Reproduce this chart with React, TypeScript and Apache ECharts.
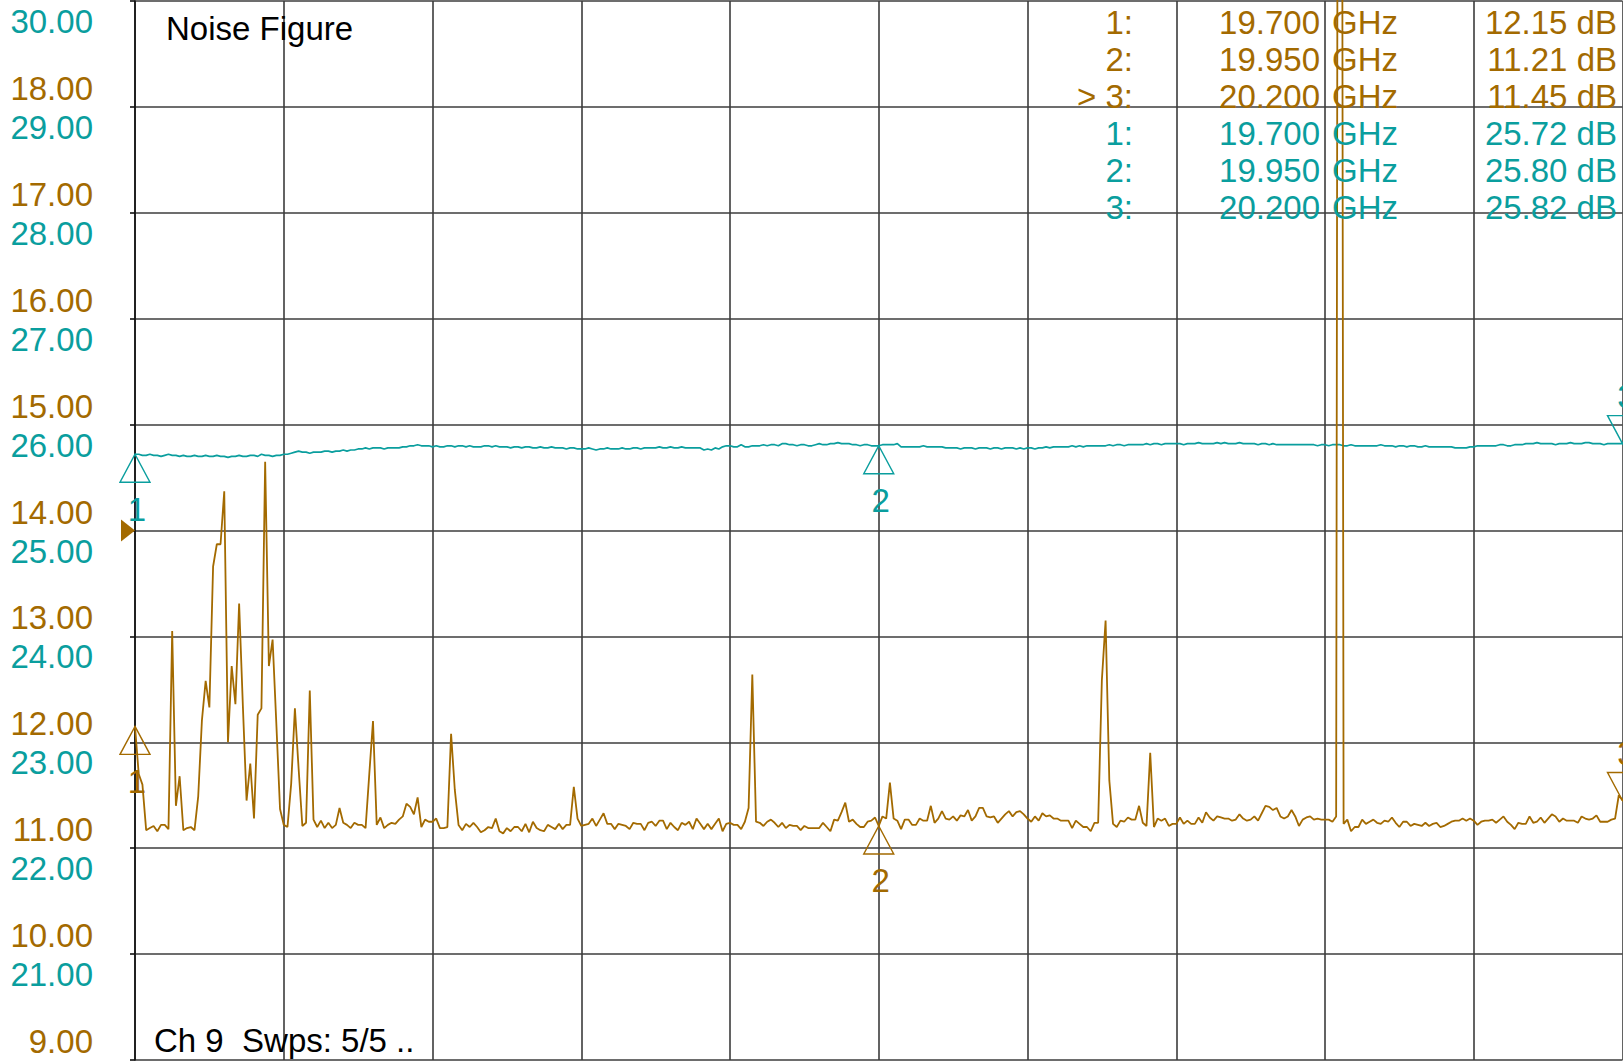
import React, { useEffect, useRef } from "react";
import * as echarts from "echarts";

const BROWN = "#a36a00";
const TEAL = "#0a9e9e";
const GRID = "#3c3c3c";
const FONT = '"Liberation Sans", Arial, Helvetica, sans-serif';

const startGHz = 19.7;
const stopGHz = 20.2;

// Noise figure trace (dB), 401 points
const noiseFigure = [
  12.15, 11.70, 11.60, 11.17, 11.19, 11.21, 11.16, 11.22, 11.22, 11.18,
  13.05, 11.40, 11.68, 11.17, 11.19, 11.20, 11.17, 11.49, 12.21, 12.58,
  12.33, 13.66, 13.87, 13.87, 14.37, 12.00, 12.72, 12.36, 13.31, 12.35,
  11.45, 11.80, 11.28, 12.26, 12.32, 14.65, 12.72, 12.97, 12.18, 11.37,
  11.22, 11.20, 11.61, 12.32, 11.75, 11.21, 11.24, 12.49, 11.27, 11.20,
  11.26, 11.19, 11.24, 11.19, 11.22, 11.38, 11.24, 11.22, 11.19, 11.24,
  11.22, 11.22, 11.19, 11.70, 12.20, 11.22, 11.29, 11.19, 11.22, 11.24,
  11.23, 11.27, 11.30, 11.42, 11.39, 11.32, 11.48, 11.20, 11.27, 11.25,
  11.25, 11.28, 11.19, 11.19, 11.20, 12.08, 11.55, 11.22, 11.17, 11.23,
  11.20, 11.24, 11.20, 11.15, 11.17, 11.20, 11.19, 11.28, 11.16, 11.14,
  11.19, 11.16, 11.20, 11.20, 11.16, 11.23, 11.15, 11.25, 11.19, 11.17,
  11.16, 11.22, 11.20, 11.18, 11.23, 11.18, 11.22, 11.22, 11.58, 11.28,
  11.21, 11.22, 11.23, 11.28, 11.21, 11.27, 11.33, 11.23, 11.23, 11.18,
  11.23, 11.22, 11.21, 11.18, 11.24, 11.23, 11.23, 11.17, 11.24, 11.25,
  11.21, 11.26, 11.26, 11.18, 11.24, 11.20, 11.17, 11.24, 11.22, 11.25,
  11.18, 11.28, 11.23, 11.18, 11.23, 11.18, 11.23, 11.28, 11.16, 11.23,
  11.24, 11.22, 11.22, 11.18, 11.25, 11.38, 12.64, 11.25, 11.24, 11.21,
  11.25, 11.27, 11.24, 11.20, 11.24, 11.19, 11.22, 11.21, 11.21, 11.17,
  11.21, 11.19, 11.19, 11.19, 11.19, 11.24, 11.20, 11.16, 11.27, 11.26,
  11.34, 11.43, 11.25, 11.27, 11.23, 11.20, 11.20, 11.25, 11.26, 11.29,
  11.21, 11.30, 11.28, 11.62, 11.28, 11.26, 11.18, 11.27, 11.27, 11.22,
  11.22, 11.28, 11.26, 11.26, 11.40, 11.24, 11.28, 11.35, 11.28, 11.27,
  11.30, 11.26, 11.31, 11.30, 11.36, 11.26, 11.30, 11.38, 11.38, 11.30,
  11.29, 11.30, 11.24, 11.28, 11.32, 11.35, 11.30, 11.34, 11.35, 11.32,
  11.28, 11.25, 11.30, 11.26, 11.33, 11.30, 11.31, 11.28, 11.28, 11.26,
  11.26, 11.26, 11.19, 11.26, 11.23, 11.20, 11.20, 11.16, 11.24, 11.24,
  12.59, 13.15, 11.64, 11.23, 11.20, 11.26, 11.25, 11.29, 11.27, 11.27,
  11.40, 11.24, 11.21, 11.90, 11.20, 11.28, 11.26, 11.28, 11.21, 11.23,
  11.23, 11.29, 11.23, 11.26, 11.23, 11.23, 11.29, 11.24, 11.34, 11.29,
  11.26, 11.30, 11.29, 11.28, 11.28, 11.26, 11.27, 11.32, 11.28, 11.26,
  11.27, 11.30, 11.26, 11.33, 11.40, 11.39, 11.36, 11.38, 11.30, 11.28,
  11.30, 11.36, 11.30, 11.21, 11.27, 11.29, 11.30, 11.27, 11.28, 11.27,
  11.27, 11.27, 11.25, 11.30, 35.00, 11.23, 11.27, 11.16, 11.20, 11.20,
  11.27, 11.23, 11.25, 11.27, 11.24, 11.23, 11.26, 11.25, 11.29, 11.24,
  11.20, 11.25, 11.25, 11.21, 11.23, 11.22, 11.21, 11.24, 11.21, 11.23,
  11.24, 11.20, 11.21, 11.23, 11.25, 11.26, 11.26, 11.28, 11.26, 11.28,
  11.26, 11.22, 11.25, 11.26, 11.26, 11.27, 11.24, 11.27, 11.30, 11.25,
  11.22, 11.18, 11.24, 11.23, 11.23, 11.30, 11.24, 11.25, 11.29, 11.24,
  11.28, 11.32, 11.30, 11.25, 11.28, 11.26, 11.26, 11.26, 11.24, 11.30,
  11.28, 11.27, 11.28, 11.31, 11.25, 11.25, 11.25, 11.27, 11.28, 11.50,
  11.45,
];

// Gain trace (dB), 401 points
const gain = [
  25.72, 25.72, 25.71, 25.71, 25.72, 25.71, 25.71, 25.70, 25.71, 25.72,
  25.71, 25.71, 25.70, 25.71, 25.70, 25.70, 25.71, 25.70, 25.70, 25.71,
  25.70, 25.70, 25.71, 25.70, 25.70, 25.69, 25.70, 25.70, 25.71, 25.70,
  25.70, 25.71, 25.71, 25.70, 25.72, 25.71, 25.71, 25.70, 25.71, 25.71,
  25.72, 25.72, 25.73, 25.74, 25.75, 25.74, 25.74, 25.73, 25.74, 25.74,
  25.74, 25.75, 25.75, 25.74, 25.75, 25.75, 25.76, 25.75, 25.76, 25.76,
  25.77, 25.77, 25.78, 25.77, 25.78, 25.78, 25.78, 25.77, 25.78, 25.78,
  25.78, 25.78, 25.79, 25.79, 25.80, 25.80, 25.81, 25.80, 25.80, 25.80,
  25.79, 25.80, 25.79, 25.79, 25.80, 25.80, 25.79, 25.80, 25.80, 25.79,
  25.80, 25.79, 25.79, 25.79, 25.80, 25.80, 25.79, 25.80, 25.79, 25.79,
  25.79, 25.78, 25.79, 25.79, 25.78, 25.79, 25.79, 25.78, 25.78, 25.79,
  25.78, 25.78, 25.79, 25.78, 25.78, 25.78, 25.77, 25.78, 25.78, 25.77,
  25.77, 25.77, 25.78, 25.77, 25.76, 25.77, 25.77, 25.78, 25.77, 25.77,
  25.77, 25.78, 25.77, 25.77, 25.78, 25.78, 25.77, 25.78, 25.78, 25.78,
  25.78, 25.79, 25.78, 25.78, 25.79, 25.78, 25.78, 25.79, 25.78, 25.78,
  25.78, 25.78, 25.78, 25.76, 25.77, 25.76, 25.78, 25.77, 25.79, 25.80,
  25.80, 25.79, 25.79, 25.81, 25.79, 25.79, 25.80, 25.80, 25.80, 25.81,
  25.80, 25.81, 25.81, 25.80, 25.82, 25.82, 25.81, 25.81, 25.80, 25.81,
  25.81, 25.80, 25.80, 25.81, 25.82, 25.81, 25.81, 25.82, 25.82, 25.83,
  25.82, 25.82, 25.82, 25.81, 25.81, 25.80, 25.81, 25.81, 25.80, 25.80,
  25.80, 25.81, 25.81, 25.81, 25.81, 25.82, 25.79, 25.79, 25.79, 25.79,
  25.79, 25.79, 25.80, 25.79, 25.79, 25.79, 25.79, 25.79, 25.78, 25.78,
  25.78, 25.78, 25.77, 25.78, 25.78, 25.78, 25.77, 25.78, 25.78, 25.78,
  25.77, 25.78, 25.78, 25.77, 25.78, 25.78, 25.78, 25.77, 25.78, 25.77,
  25.78, 25.78, 25.77, 25.78, 25.78, 25.79, 25.78, 25.79, 25.79, 25.79,
  25.79, 25.79, 25.80, 25.79, 25.80, 25.79, 25.80, 25.80, 25.80, 25.80,
  25.80, 25.80, 25.81, 25.80, 25.81, 25.81, 25.80, 25.81, 25.81, 25.81,
  25.81, 25.81, 25.82, 25.81, 25.82, 25.82, 25.81, 25.82, 25.82, 25.82,
  25.82, 25.82, 25.81, 25.82, 25.82, 25.82, 25.83, 25.82, 25.82, 25.82,
  25.82, 25.83, 25.82, 25.83, 25.82, 25.82, 25.82, 25.83, 25.82, 25.82,
  25.82, 25.82, 25.81, 25.82, 25.82, 25.81, 25.82, 25.81, 25.81, 25.81,
  25.81, 25.81, 25.81, 25.81, 25.81, 25.81, 25.81, 25.81, 25.80, 25.81,
  25.81, 25.80, 25.81, 25.81, 25.81, 25.80, 25.80, 25.81, 25.80, 25.80,
  25.80, 25.80, 25.80, 25.80, 25.80, 25.81, 25.80, 25.80, 25.80, 25.79,
  25.80, 25.80, 25.79, 25.80, 25.80, 25.79, 25.79, 25.80, 25.79, 25.79,
  25.79, 25.79, 25.79, 25.79, 25.79, 25.78, 25.78, 25.78, 25.78, 25.79,
  25.79, 25.80, 25.80, 25.80, 25.80, 25.80, 25.80, 25.81, 25.81, 25.80,
  25.80, 25.81, 25.81, 25.81, 25.82, 25.82, 25.82, 25.83, 25.82, 25.82,
  25.82, 25.82, 25.81, 25.82, 25.82, 25.82, 25.83, 25.82, 25.82, 25.82,
  25.83, 25.83, 25.82, 25.82, 25.82, 25.81, 25.82, 25.82, 25.82, 25.82,
  25.82,
];

// Markers
const markerFreqs = [19.7, 19.95, 20.2];
const markerFreqText = ["19.700", "19.950", "20.200"];
const markerNames = ["1", "2", "3"];
const nfMarkerPrefix = ["1:", "2:", "> 3:"];
const gainMarkerPrefix = ["1:", "2:", "3:"];
const nfMarkerValues = [12.15, 11.21, 11.45];
const gainMarkerValues = [25.72, 25.8, 25.82];
const activeMarkerIndex = 2;
const referenceLevel = 14;

// Axes
const nfAxis = { min: 9, max: 19, step: 1 };
const gainAxis = { min: 20, max: 30, step: 1 };
const freqStep = 0.05;

const titleText = "Noise Figure";
const statusText = "Ch 9  Swps: 5/5 ..";

const UP = "path://M15,0L30,28L0,28Z";
const DOWN = "path://M0,0L30,0L15,28Z";
const ARROW = "path://M0,0L14,11L0,22Z";

function markerItems(values: number[], color: string) {
  const items: any[] = [];
  values.forEach((v, i) => {
    const down = i === activeMarkerIndex;
    items.push({
      coord: [markerFreqs[i], v],
      symbol: down ? DOWN : UP,
      symbolSize: [30, 28],
      symbolOffset: [0, down ? -14 : 14],
      itemStyle: { color: "rgba(0,0,0,0)", borderColor: color, borderWidth: 1.4 },
      label: { show: false },
    });
    items.push({
      coord: [markerFreqs[i], v],
      symbol: "circle",
      symbolSize: 1,
      itemStyle: { color: "rgba(0,0,0,0)" },
      label: {
        show: true,
        position: "inside",
        offset: down ? [4, -47] : [2, 55],
        formatter: markerNames[i],
        color,
        fontSize: 33,
        fontFamily: FONT,
      },
    });
  });
  return items;
}

export default function App() {
  const ref = useRef<HTMLDivElement>(null);

  useEffect(() => {
    if (!ref.current) return;
    const chart = echarts.init(ref.current, undefined, { renderer: "svg" });
    const n = noiseFigure.length;
    const freqs = noiseFigure.map((_, i) => +(startGHz + ((stopGHz - startGHz) * i) / (n - 1)).toFixed(6));

    const rowYs = [22, 59.1, 96.2, 133.3, 170.4, 207.5];
    const tableTexts: any[] = [];
    const addRow = (row: number, prefix: string, freq: string, val: string, color: string) => {
      const y = rowYs[row];
      const base = { fill: color, fontSize: 33, fontFamily: FONT, verticalAlign: "middle" };
      tableTexts.push({ type: "text", x: 1133, y, z: 10, style: { ...base, text: prefix, align: "right" } });
      tableTexts.push({ type: "text", x: 1320, y, z: 10, style: { ...base, text: freq, align: "right" } });
      tableTexts.push({ type: "text", x: 1332, y, z: 10, style: { ...base, text: "GHz", align: "left" } });
      tableTexts.push({ type: "text", x: 1617, y, z: 10, style: { ...base, text: val, align: "right" } });
    };
    for (let i = 0; i < 3; i++) addRow(i, nfMarkerPrefix[i], markerFreqText[i], nfMarkerValues[i].toFixed(2) + " dB", BROWN);
    for (let i = 0; i < 3; i++) addRow(i + 3, gainMarkerPrefix[i], markerFreqText[i], gainMarkerValues[i].toFixed(2) + " dB", TEAL);

    chart.setOption({
      animation: false,
      backgroundColor: "#ffffff",
      grid: { left: 135, top: 1, width: 1487.5, height: 1059, containLabel: false },
      xAxis: {
        type: "value",
        min: startGHz,
        max: stopGHz,
        interval: freqStep,
        axisLine: { show: false },
        axisTick: { show: false },
        axisLabel: { show: false },
        splitLine: { show: true, lineStyle: { color: GRID, width: 1.6 } },
      },
      yAxis: [
        {
          type: "value",
          position: "left",
          min: nfAxis.min,
          max: nfAxis.max,
          interval: nfAxis.step,
          axisLine: { show: true, lineStyle: { color: "#111111", width: 1.6 } },
          axisTick: { show: true, length: 5, lineStyle: { color: "#111111", width: 1.6 } },
          splitLine: { show: true, lineStyle: { color: GRID, width: 1.6 } },
          axisLabel: {
            show: true,
            margin: 42,
            color: BROWN,
            fontSize: 33,
            fontFamily: FONT,
            verticalAlign: "bottom",
            padding: [0, 0, 2, 0],
            formatter: (v: number) => (v >= nfAxis.max ? "" : v.toFixed(2)),
          },
        },
        {
          type: "value",
          position: "left",
          min: gainAxis.min,
          max: gainAxis.max,
          interval: gainAxis.step,
          axisLine: { show: false },
          axisTick: { show: false },
          splitLine: { show: false },
          axisLabel: {
            show: true,
            margin: 42,
            color: TEAL,
            fontSize: 33,
            fontFamily: FONT,
            verticalAlign: "top",
            padding: [4, 0, 0, 0],
            formatter: (v: number) => (v <= gainAxis.min ? "" : v.toFixed(2)),
          },
        },
      ],
      graphic: [
        {
          type: "text",
          x: 166,
          y: 28,
          z: 10,
          style: { text: titleText, fill: "#000000", fontSize: 33, fontFamily: FONT, verticalAlign: "middle" },
        },
        {
          type: "text",
          x: 154,
          y: 1040,
          z: 10,
          style: { text: statusText, fill: "#000000", fontSize: 33, fontFamily: FONT, verticalAlign: "middle" },
        },
        ...tableTexts,
      ],
      series: [
        {
          type: "line",
          name: "Gain",
          yAxisIndex: 1,
          data: freqs.map((f, i) => [f, gain[i]]),
          showSymbol: false,
          symbol: "none",
          clip: true,
          lineStyle: { color: TEAL, width: 1.7 },
          z: 3,
          markPoint: { silent: true, data: markerItems(gainMarkerValues, TEAL) },
        },
        {
          type: "line",
          name: "Noise Figure",
          yAxisIndex: 0,
          data: freqs.map((f, i) => [f, noiseFigure[i]]),
          showSymbol: false,
          symbol: "none",
          clip: true,
          lineStyle: { color: BROWN, width: 1.8 },
          z: 4,
          markPoint: {
            silent: true,
            data: [
              ...markerItems(nfMarkerValues, BROWN),
              {
                coord: [startGHz, referenceLevel],
                symbol: ARROW,
                symbolSize: [14, 22],
                symbolOffset: [-7, 0],
                itemStyle: { color: BROWN },
                label: { show: false },
              },
            ],
          },
        },
      ],
    });
    return () => chart.dispose();
  }, []);

  return (
    <div
      ref={ref}
      style={{ position: "fixed", left: 0, top: 0, width: 1623, height: 1062, background: "#fff" }}
    />
  );
}
